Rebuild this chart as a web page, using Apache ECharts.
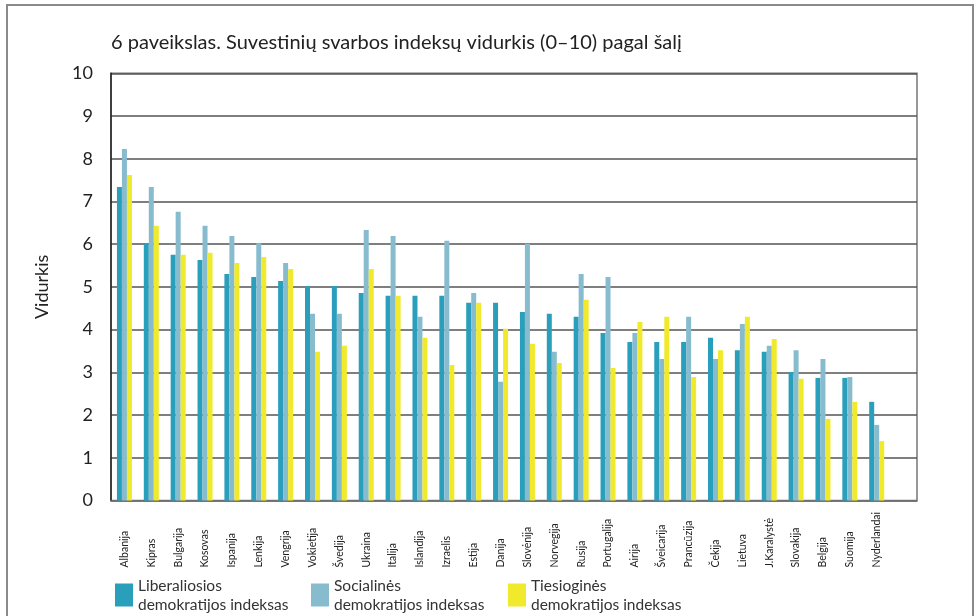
<!DOCTYPE html>
<html>
<head>
<meta charset="utf-8">
<script src="https://cdn.jsdelivr.net/npm/echarts@6/dist/echarts.min.js"></script>
<style>
html,body{margin:0;padding:0;background:#fff;}
#c{width:975px;height:616px;}
</style>
</head>
<body>
<div id="c"></div>
<script>
const categories = ['Albanija','Kipras','Bulgarija','Kosovas','Ispanija','Lenkija','Vengrija','Vokietija','Švedija','Ukraina','Italija','Islandija','Izraelis','Estija','Danija','Slovėnija','Norvegija','Rusija','Portugalija','Airija','Šveicarija','Prancūzija','Čekija','Lietuva','J.Karalystė','Slovakija','Belgija','Suomija','Nyderlandai',''];
const liberal = [7.34,6.02,5.75,5.63,5.30,5.23,5.14,5.02,5.02,4.86,4.79,4.79,4.79,4.63,4.63,4.41,4.37,4.30,3.92,3.71,3.71,3.71,3.81,3.52,3.48,3.01,2.87,2.87,2.31];
const social = [8.23,7.34,6.76,6.43,6.19,6.02,5.56,4.37,4.37,6.33,6.19,4.30,6.08,4.86,2.78,6.01,3.48,5.30,5.23,3.92,3.31,4.30,3.31,4.13,3.62,3.52,3.31,2.89,1.77];
const direct = [7.62,6.43,5.75,5.80,5.56,5.70,5.42,3.48,3.62,5.42,4.79,3.81,3.17,4.63,4.02,3.67,3.22,4.70,3.10,4.18,4.30,2.89,3.52,4.30,3.78,2.85,1.91,2.31,1.39];
const seriesNames = ['Liberaliosios\ndemokratijos indeksas','Socialinės\ndemokratijos indeksas','Tiesioginės\ndemokratijos indeksas'];
const yTicks = [0,1,2,3,4,5,6,7,8,9,10];
const colors = ['#2a9fbc','#87bccf','#f0e92c'];

const FONT = 'Lato';
const chart = echarts.init(document.getElementById('c'), null, {renderer:'canvas'});
const legendLefts = [115, 311, 508];
chart.setOption({
  animation:false,
  backgroundColor:'#fff',
  textStyle:{fontFamily:FONT},
  title:{
    text:'6 paveikslas. Suvestinių svarbos indeksų vidurkis (0–10) pagal šalį',
    left:106, top:28,
    textStyle:{fontFamily:FONT,fontSize:20,fontWeight:'normal',color:'#222'}
  },
  graphic:[{
    type:'rect', shape:{x:7,y:5,width:966,height:640},
    style:{fill:'none',stroke:'#8a8a8a',lineWidth:2}, silent:true, z:-1
  }],
  legend: seriesNames.map((n,i)=>({
    data:[n], left:legendLefts[i], top:576, orient:'horizontal',
    itemWidth:18, itemHeight:23, itemGap:0, padding:0,
    icon:'rect',
    textStyle:{fontFamily:FONT,fontSize:15.5,color:'#333',lineHeight:19},
    selectedMode:false
  })),
  grid:{left:111,right:58,top:73.3,bottom:115.5,show:true,borderColor:'#777',borderWidth:1.5,backgroundColor:'transparent'},
  xAxis:{
    type:'category', data:categories,
    axisTick:{show:false},
    axisLine:{show:true,lineStyle:{color:'#777',width:1.5}},
    axisLabel:{interval:0,rotate:90,align:'left',margin:67,fontSize:10.5,color:'#222',fontFamily:FONT,padding:[0,0,6,0]}
  },
  yAxis:{
    type:'value', min:yTicks[0], max:yTicks[yTicks.length-1], interval:1,
    name:'Vidurkis', nameLocation:'middle', nameGap:60, nameRotate:90,
    nameTextStyle:{fontFamily:FONT,fontSize:18,color:'#222'},
    axisLine:{show:true,lineStyle:{color:'#222',width:1.5}},
    axisTick:{show:false},
    axisLabel:{fontSize:18,color:'#222',margin:18,fontFamily:FONT},
    splitLine:{show:true,lineStyle:{color:'#555',width:1.5}}
  },
  series:[liberal,social,direct].map((d,i)=>({
    type:'bar', name:seriesNames[i], data:d,
    barWidth:5, barGap:'0%',
    itemStyle:{color:colors[i]}
  }))
});
</script>
</body>
</html>
